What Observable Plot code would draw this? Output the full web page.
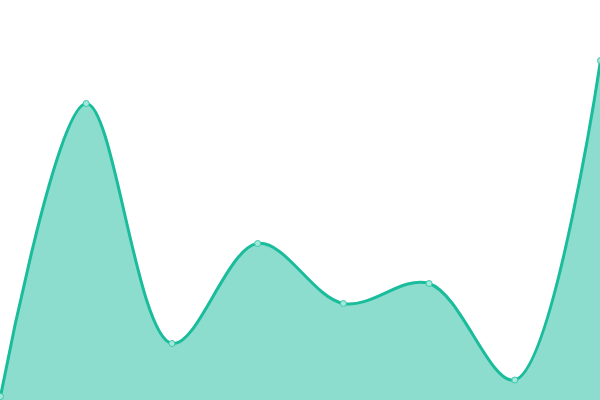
<!DOCTYPE html>
<html><head><meta charset="utf-8">
<script src="https://cdn.jsdelivr.net/npm/d3@7"></script>
<script src="https://cdn.jsdelivr.net/npm/@observablehq/plot@0.6"></script>
<style>html,body{margin:0;padding:0;background:#fff;overflow:hidden}</style>
</head><body><div id="chart"></div>
<script>
const xs = [0, 1, 2, 3, 4, 5, 6, 7];
const values = [4, 297, 57, 157, 97, 117, 20.5, 340];
const data = xs.map((x, i) => ({x, y: values[i]}));
const chart = Plot.plot({
  width: 600, height: 400,
  margin: 0,
  x: {domain: [0, 7], axis: null},
  y: {domain: [0, 400], axis: null},
  marks: [
    Plot.areaY(data, {x: "x", y: "y", curve: "catmull-rom", fill: "#1abc9c", fillOpacity: 0.5}),
    Plot.lineY(data, {x: "x", y: "y", curve: "catmull-rom", stroke: "#1abc9c", strokeWidth: 3}),
    Plot.dot(data, {x: "x", y: "y", r: 3, fill: "#a3e9db", stroke: "#3cc7aa", strokeWidth: 1})
  ]
});
document.getElementById("chart").appendChild(chart);
</script></body></html>
